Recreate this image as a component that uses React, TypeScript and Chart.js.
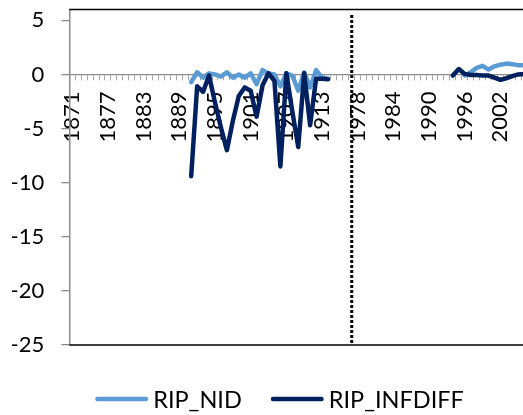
import React, { useEffect, useRef } from "react";
import { Chart, registerables } from "chart.js";

Chart.register(...registerables);

const CATEGORIES: string[] = [
  "1871", "1872", "1873", "1874", "1875", "1876", "1877", "1878", "1879", "1880",
  "1881", "1882", "1883", "1884", "1885", "1886", "1887", "1888", "1889", "1890",
  "1891", "1892", "1893", "1894", "1895", "1896", "1897", "1898", "1899", "1900",
  "1901", "1902", "1903", "1904", "1905", "1906", "1907", "1908", "1909", "1910",
  "1911", "1912", "1913", "1914", "1915", "1916", "1917", "",
  "1978", "1979", "1980", "1981", "1982", "1983", "1984", "1985", "1986", "1987",
  "1988", "1989", "1990", "1991", "1992", "1993", "1994", "1995", "1996", "1997",
  "1998", "1999", "2000", "2001", "2002", "2003", "2004", "2005", "2006", "2007",
  "2008", "2009",
];

const RIP_NID: (number | null)[] = [
  null, null, null, null, null, null, null, null, null, null,
  null, null, null, null, null, null, null, null, null, null,
  -0.7, 0.2, -0.3, 0.1, 0.0, -0.2, 0.2, -0.3, 0.0, -0.3,
  0.1, -0.9, 0.4, 0.1, 0.0, -1.1, 0.1, -0.1, -1.5, 0.2,
  -1.2, 0.4, -0.3, -0.4,
  null, null, null, null, null, null, null, null, null, null, null,
  null, null, null, null, null, null, null, null, null, null, null,
  -0.1, 0.2, 0.6, 0.8, 0.45, 0.75, 0.9, 1.0, 0.95, 0.85, 0.85,
  null, null, null,
];

const RIP_INFDIFF: (number | null)[] = [
  null, null, null, null, null, null, null, null, null, null,
  null, null, null, null, null, null, null, null, null, null,
  -9.4, -1.1, -1.6, -0.1, -2.6, -4.9, -7.0, -4.3, -2.0, -1.2,
  -1.5, -3.9, -1.0, 0.1, -0.6, -8.5, 0.1, -3.4, -6.7, 0.1,
  -4.7, -0.4, -0.4, -0.45,
  null, null, null, null, null, null, null, null, null, null,
  null, null, null, null, null, null, null, null, null, null,
  -0.1, 0.5, 0.05, -0.05, -0.05, -0.1, -0.1, -0.3, -0.5, -0.35,
  -0.15, 0.0, 0.05,
  null, null, null,
];

const SEPARATOR_CATEGORY = "";
const SEPARATOR_TOP = 5.5;
const SEPARATOR_BOTTOM = -25;

const Y_MIN = -25;
const Y_MAX = 6;
const Y_TICKS = [-25, -20, -15, -10, -5, 0, 5];
const LABEL_EVERY = 6;

const FONT = "Lato, 'Open Sans', sans-serif";
const LIGHT = "#5B9BD5";
const DARK = "#002060";
const AXIS_GREY = "#8c8c8c";

export default function App() {
  const ref = useRef<HTMLCanvasElement>(null);

  useEffect(() => {
    const canvas = ref.current;
    if (!canvas) return;

    const framePlugin = {
      id: "frameLines",
      beforeDatasetsDraw(chart: any) {
        const { ctx, chartArea: a } = chart;
        ctx.save();
        ctx.strokeStyle = "#000";
        ctx.lineWidth = 1.5;
        ctx.beginPath();
        ctx.moveTo(a.left, a.top);
        ctx.lineTo(a.right, a.top);
        ctx.moveTo(a.left, a.bottom);
        ctx.lineTo(a.right, a.bottom);
        ctx.stroke();
        ctx.restore();
      },
    };

    const legendPlugin = {
      id: "customLegend",
      afterDraw(chart: any) {
        const ctx = chart.ctx;
        const items = chart.data.datasets.filter((d: any) => d.label);
        ctx.save();
        ctx.font = `23.5px ${FONT}`;
        const lineLen = 53;
        const gapText = 5;
        const gapItem = 29;
        const widths = items.map((d: any) => ctx.measureText(d.label).width);
        const total =
          items.reduce((s: number, _d: any, i: number) => s + lineLen + gapText + widths[i], 0) +
          gapItem * (items.length - 1);
        let x = chart.width / 2 - total / 2;
        const y = chart.chartArea.bottom + 54;
        items.forEach((d: any, i: number) => {
          ctx.strokeStyle = d.borderColor;
          ctx.lineWidth = 4.5;
          ctx.lineCap = "round";
          ctx.beginPath();
          ctx.moveTo(x + 2.25, y);
          ctx.lineTo(x + lineLen - 2.25, y);
          ctx.stroke();
          ctx.fillStyle = "#000";
          ctx.textBaseline = "middle";
          ctx.textAlign = "left";
          ctx.fillText(d.label, x + lineLen + gapText, y + 1);
          x += lineLen + gapText + widths[i] + gapItem;
        });
        ctx.restore();
      },
    };

    const chart = new Chart(canvas, {
      type: "line",
      data: {
        labels: CATEGORIES,
        datasets: [
          {
            label: "RIP_NID",
            data: RIP_NID,
            borderColor: LIGHT,
            backgroundColor: LIGHT,
            borderWidth: 4.5,
            pointRadius: 0,
            borderCapStyle: "round",
            borderJoinStyle: "round",
            tension: 0,
            spanGaps: false,
            order: 2,
          },
          {
            label: "RIP_INFDIFF",
            data: RIP_INFDIFF,
            borderColor: DARK,
            backgroundColor: DARK,
            borderWidth: 4.5,
            pointRadius: 0,
            borderCapStyle: "round",
            borderJoinStyle: "round",
            tension: 0,
            spanGaps: false,
            order: 1,
          },
          {
            label: "",
            data: [
              { x: SEPARATOR_CATEGORY, y: SEPARATOR_TOP },
              { x: SEPARATOR_CATEGORY, y: SEPARATOR_BOTTOM },
            ] as any,
            borderColor: "#000",
            borderWidth: 3,
            borderDash: [3, 2],
            borderCapStyle: "butt",
            pointRadius: 0,
            order: 0,
          },
        ],
      },
      options: {
        responsive: false,
        animation: false,
        devicePixelRatio: 1,
        layout: { padding: { left: 12, top: 9.5, right: 14, bottom: 70 } },
        plugins: {
          legend: { display: false },
          tooltip: { enabled: false },
        },
        scales: {
          x: {
            type: "category",
            position: { y: 0 } as any,
            offset: true,
            grid: {
              display: true,
              drawOnChartArea: false,
              drawTicks: true,
              tickLength: 5,
              offset: true,
              color: "#a6a6a6",
              lineWidth: 1,
            },
            border: { display: true, color: AXIS_GREY, width: 1.3 },
            ticks: {
              autoSkip: false,
              maxRotation: 90,
              minRotation: 90,
              padding: 12,
              color: "#000",
              font: { family: FONT, size: 22 },
              callback: (_v: any, i: number) => (i % LABEL_EVERY === 0 ? CATEGORIES[i] : ""),
            },
            afterFit: (s: any) => {
              s.paddingLeft = 0;
              s.paddingRight = 0;
            },
          },
          y: {
            type: "linear",
            min: Y_MIN,
            max: Y_MAX,
            afterBuildTicks: (s: any) => {
              s.ticks = Y_TICKS.map((v) => ({ value: v }));
            },
            grid: {
              drawOnChartArea: false,
              drawTicks: true,
              tickLength: 8,
              color: AXIS_GREY,
              lineWidth: 1.3,
            },
            border: { display: true, color: AXIS_GREY, width: 1.5 },
            ticks: {
              padding: 17,
              color: "#000",
              font: { family: FONT, size: 22 },
            },
            afterFit: (s: any) => {
              s.width = 57.3;
              s.paddingTop = 0;
              s.paddingBottom = 0;
            },
          },
        },
      },
      plugins: [framePlugin, legendPlugin],
    });

    return () => chart.destroy();
  }, []);

  return (
    <div style={{ position: "fixed", left: 0, top: 0, width: 559, height: 415, background: "#fff" }}>
      <canvas ref={ref} width={559} height={415} style={{ display: "block", width: 559, height: 415 }} />
    </div>
  );
}
